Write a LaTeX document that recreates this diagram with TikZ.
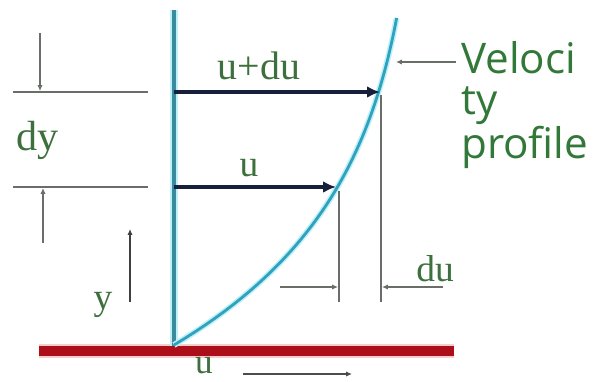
\documentclass[tikz,border=0pt]{standalone}
\usepackage{fontspec}
\usetikzlibrary{arrows.meta}
\newfontfamily\labelfont{Liberation Serif}
\newfontfamily\notefont{Open Sans}
\definecolor{wallblue}{RGB}{58,138,160}
\definecolor{glowcyan}{RGB}{190,240,250}
\definecolor{profcyan}{RGB}{48,162,188}
\definecolor{platered}{RGB}{172,14,26}
\definecolor{platepink}{RGB}{250,205,205}
\definecolor{arrownavy}{RGB}{22,32,58}
\definecolor{dimgray}{RGB}{105,110,105}
\definecolor{labgreen}{RGB}{62,112,62}
\definecolor{notegreen}{RGB}{50,120,56}

\begin{document}
\begin{tikzpicture}[x=0.03cm, y=-0.03cm,
    dim/.style={draw=dimgray, line width=1.1pt},
    dimarrow/.style={dim, -{Latex[length=5pt,width=4.5pt]}},
    velarrow/.style={draw=arrownavy, line width=3.2pt, -{Latex[length=11pt,width=10pt]}},
    lab/.style={text=labgreen, inner sep=0pt, font=\labelfont\fontsize{32}{36}\selectfont}]
  \useasboundingbox (0,0) rectangle (602,381);

  % wall and plate
  \coordinate (wallTop) at (174,10);
  \coordinate (wallBot) at (174,346);
  \coordinate (plateL) at (39,351);
  \coordinate (plateR) at (454,351);
  \draw [platepink, line width=12pt] (plateL) -- (plateR);
  \draw [platered, line width=9pt] (plateL) -- (plateR);
  \draw [glowcyan, line width=7pt] (wallTop) -- (wallBot);
  \draw [wallblue, line width=3.5pt] (wallTop) -- (wallBot);

  % velocity profile, x grows like 1-exp(-h/150) with height h
  \draw [glowcyan, line width=5pt] plot[domain=0:327, samples=50]
    ({174+251*(1-exp(-\x/150))}, {345-\x});
  \draw [profcyan, line width=2.4pt] plot[domain=0:327, samples=50]
    ({174+251*(1-exp(-\x/150))}, {345-\x});

  % velocity arrows
  \coordinate (udStart) at (174,92);
  \coordinate (udTip) at (380,92);
  \coordinate (uStart) at (174,187);
  \coordinate (uTip) at (336,187);
  \draw [velarrow] (udStart) -- (udTip);
  \draw [velarrow] (uStart) -- (uTip);
  \node [lab, font=\labelfont\fontsize{34}{36}\selectfont] (udLabel) at (259,66) {u+du};
  \node [lab] (uLabel) at (249,168) {u};

  % dy dimension
  \coordinate (topLineL) at (13,92);
  \coordinate (topLineR) at (148,92);
  \coordinate (botLineL) at (13,187);
  \coordinate (botLineR) at (148,187);
  \draw [dim] (topLineL) -- (topLineR);
  \draw [dim] (botLineL) -- (botLineR);
  \coordinate (dyTopTail) at (40,33);
  \coordinate (dyTopHead) at (40,91);
  \coordinate (dyBotTail) at (43,243);
  \coordinate (dyBotHead) at (43,188);
  \draw [dimarrow] (dyTopTail) -- (dyTopHead);
  \draw [dimarrow] (dyBotTail) -- (dyBotHead);
  \node [lab, font=\labelfont\fontsize{36}{36}\selectfont] (dyLabel) at (38,140) {dy};

  % y direction
  \coordinate (yTail) at (130,302);
  \coordinate (yHead) at (130,229);
  \draw [dimarrow, draw=black!75, line width=1.4pt] (yTail) -- (yHead);
  \node [lab] (yLabel) at (103,305) {y};

  % du dimension
  \coordinate (uDrop) at (339,191);
  \coordinate (uFoot) at (339,302);
  \coordinate (udDrop) at (381,95);
  \coordinate (udFoot) at (381,302);
  \draw [dim] (uDrop) -- (uFoot);
  \draw [dim] (udDrop) -- (udFoot);
  \coordinate (duLTail) at (280,287);
  \coordinate (duLHead) at (338,287);
  \coordinate (duRTail) at (443,287);
  \coordinate (duRHead) at (382,287);
  \draw [dimarrow] (duLTail) -- (duLHead);
  \draw [dimarrow] (duRTail) -- (duRHead);
  \node [lab] (duLabel) at (435,269) {du};

  % profile note (base = last line)
  \node [text=notegreen, inner sep=0pt, anchor=base west, align=left,
         font=\notefont\fontsize{36}{35}\selectfont] (note) at (461,158) {Veloci\\ty\\profile};
  \coordinate (noteTail) at (456,62);
  \coordinate (noteHead) at (396,62);
  \draw [dimarrow] (noteTail) -- (noteHead);

  % plate motion
  \node [lab, font=\labelfont\fontsize{30}{34}\selectfont] (plateU) at (204,366) {u};
  \coordinate (moveTail) at (243,374);
  \coordinate (moveHead) at (352,374);
  \draw [dimarrow, draw=black!70, line width=1.8pt] (moveTail) -- (moveHead);
\end{tikzpicture}
\end{document}
